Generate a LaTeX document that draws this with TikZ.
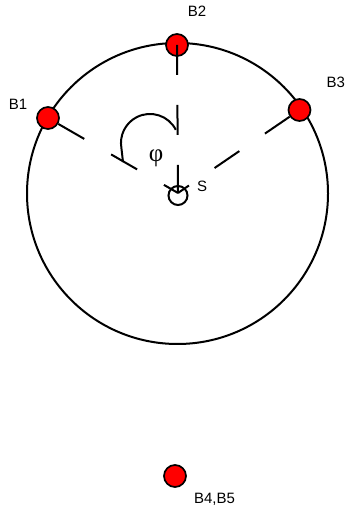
\documentclass[tikz,border=0pt]{standalone}
\usepackage{fontspec}
\setmainfont{Liberation Sans}
\newfontfamily\greekfont{Liberation Serif}
\definecolor{beacon}{HTML}{FF0000}
\definecolor{ink}{HTML}{000000}

\begin{document}
\begin{tikzpicture}[x=1pt, y=1pt,
    bcn/.style={draw=ink, circle, minimum size=22pt, inner sep=0pt, fill=beacon, line width=1.7pt},
    src/.style={draw=ink, circle, minimum size=19pt, inner sep=0pt, line width=2pt},
    ray/.style={draw=ink, line width=2pt, dash pattern=on 30pt off 31pt},
    rot/.style={draw=ink, line width=2pt},
    lbl/.style={font=\fontsize{15}{15}\selectfont, text=ink, inner sep=0pt, anchor=base}]
  \useasboundingbox (0,0) rectangle (345,510);

  % ── ring through the beacons, source S in the middle ──
  \draw[rot] (177.5,316.5) circle[radius=150.5];
  \coordinate (hub) at (178,317);
  \node[src] (s)  at (178,314.5) {};
  \node[bcn] (b1) at (48,392)  {};
  \node[bcn] (b2) at (177,465) {};
  \node[bcn] (b3) at (299.5,400) {};
  \node[bcn] (b4) at (175,34)  {};

  % ── dashed rays from the beacons to S ──
  \draw[ray] (b1) -- (hub);
  \draw[ray, dash pattern=on 30pt off 30pt] (b2.center) -- (hub);
  \draw[ray] (b3) -- (hub);

  % ── angle phi, turned from B2 to B1 ──
  \coordinate (phi0) at (175.8,380.2);
  \coordinate (phi1) at (123,348);
  \draw[rot] (phi0) arc[start angle=27, end angle=190, radius=29] -- (phi1);

  % ── labels ──
  \node[lbl] (l1)  at (18,400)   {B1};
  \node[lbl] (l2)  at (197,493)  {B2};
  \node[lbl, anchor=base west] (l3) at (326.5,422) {B3};
  \node[lbl] (l45) at (214.5,6)  {B4,B5};
  \node[lbl] (ls)  at (202,318)  {S};
  \node[font=\greekfont\fontsize{25}{25}\selectfont, inner sep=0pt] (lphi) at (156,352) {φ};
\end{tikzpicture}
\end{document}
